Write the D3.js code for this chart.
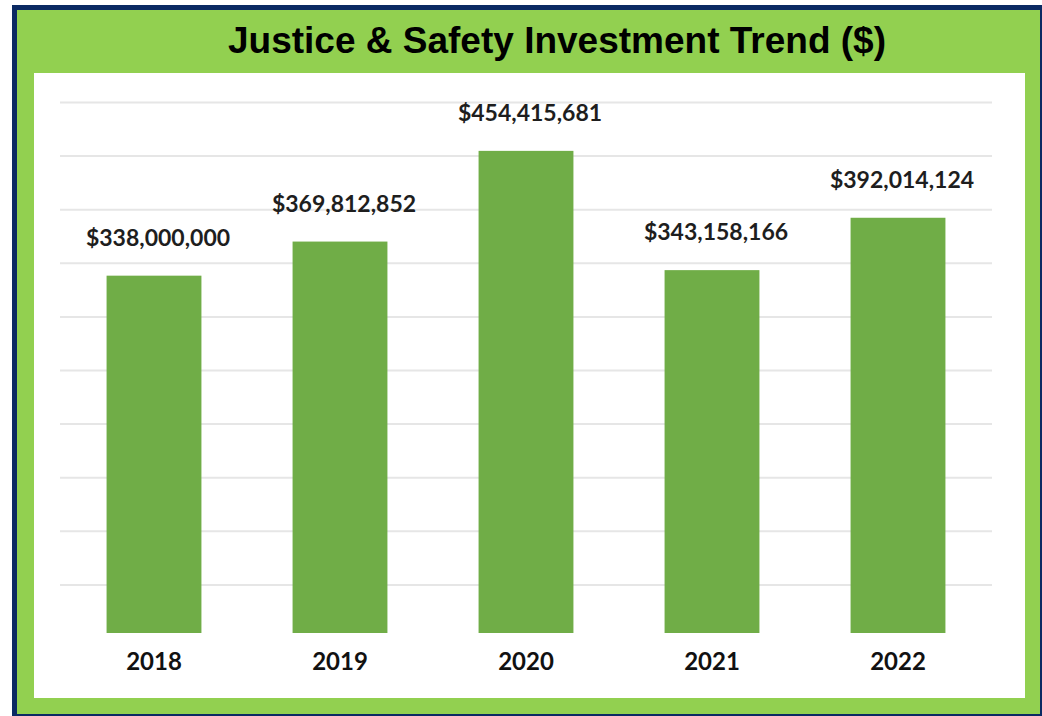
<!DOCTYPE html>
<html>
<head>
<meta charset="utf-8">
<script src="https://cdn.jsdelivr.net/npm/d3@7"></script>
<style>
  html, body { margin: 0; padding: 0; background: #fff; }
  svg { display: block; }
</style>
</head>
<body>
<svg id="chart" width="1042" height="716"></svg>
<script>
const years = ["2018", "2019", "2020", "2021", "2022"];
const investment = [338000000, 369812852, 454415681, 343158166, 392014124];
const gridTicks = [50, 100, 150, 200, 250, 300, 350, 400, 450, 500].map((d) => d * 1e6);
const title = "Justice & Safety Investment Trend ($)";

const svg = d3.select("#chart");

// frame: navy border, green card, white panel
svg.append("rect")
  .attr("x", 12).attr("y", 5)
  .attr("width", 1030).attr("height", 711)
  .attr("fill", "#0b2a63");
svg.append("rect")
  .attr("x", 17).attr("y", 10)
  .attr("width", 1023).attr("height", 704)
  .attr("fill", "#92d050");
svg.append("rect")
  .attr("x", 34).attr("y", 73)
  .attr("width", 991).attr("height", 625)
  .attr("fill", "#ffffff");

svg.append("text")
  .attr("x", 557).attr("y", 52.5)
  .attr("text-anchor", "middle")
  .attr("font-family", "Arial, 'Liberation Sans', sans-serif")
  .attr("font-weight", "bold")
  .attr("font-size", 37)
  .attr("fill", "#000")
  .text(title);

const x = d3.scaleBand()
  .domain(years)
  .range([61, 991])
  .paddingInner(0.49)
  .paddingOuter(0.245);

const y = d3.scaleLinear()
  .domain([0, 500e6])
  .range([638, 102]);

// the picture is cut just above the zero line
svg.append("defs").append("clipPath")
  .attr("id", "plot-clip")
  .append("rect")
  .attr("x", 40).attr("y", 80)
  .attr("width", 970).attr("height", 553);

const grid = svg.append("g")
  .attr("transform", "translate(60,0)")
  .call(d3.axisLeft(y).tickValues(gridTicks).tickSize(-932).tickFormat(""));
grid.select(".domain").remove();
grid.selectAll(".tick line")
  .attr("stroke", "#e6e6e6")
  .attr("stroke-width", 2);

svg.append("g")
  .attr("clip-path", "url(#plot-clip)")
  .selectAll("rect")
  .data(years)
  .join("rect")
  .attr("x", (d) => x(d))
  .attr("y", (d, i) => y(investment[i]))
  .attr("width", x.bandwidth())
  .attr("height", (d, i) => y(0) - y(investment[i]))
  .attr("fill", "#70ad47");

const money = d3.format("$,");

svg.append("g")
  .selectAll("text")
  .data(years)
  .join("text")
  .attr("x", (d) => x(d) + x.bandwidth() / 2 + 4)
  .attr("y", (d, i) => y(investment[i]) - 30)
  .attr("text-anchor", "middle")
  .attr("font-family", "Lato, 'Open Sans', sans-serif")
  .attr("font-weight", "bold")
  .attr("font-size", 23)
  .attr("fill", "#1e1e1e")
  .text((d, i) => money(investment[i]));

const xAxis = svg.append("g")
  .attr("transform", "translate(0,633)")
  .call(d3.axisBottom(x).tickSize(0).tickPadding(37));
xAxis.select(".domain").remove();
xAxis.selectAll("text")
  .attr("font-family", "Lato, 'Open Sans', sans-serif")
  .attr("font-weight", "bold")
  .attr("font-size", 24)
  .attr("fill", "#111")
  .attr("dy", 0);
</script>
</body>
</html>
